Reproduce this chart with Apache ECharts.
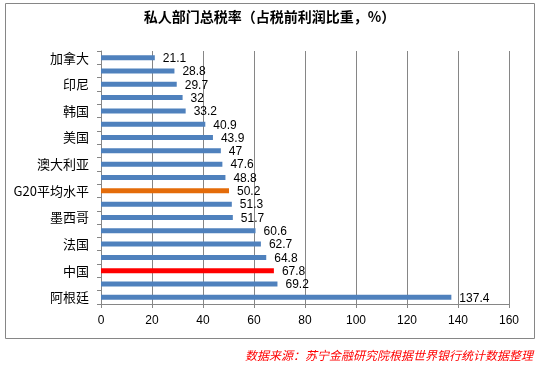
<!DOCTYPE html>
<html><head><meta charset="utf-8">
<script src="https://cdn.jsdelivr.net/npm/echarts@6/dist/echarts.min.js"></script>
<style>html,body{margin:0;padding:0;background:#fff}#c{width:539px;height:368px}</style>
</head><body><div id="c"></div>
<script>
var titleText = '私人部门总税率（占税前利润比重，%）';
var sourceText = '数据来源：苏宁金融研究院根据世界银行统计数据整理';
var categories = ['加拿大','','印尼','','韩国','','美国','','澳大利亚','','G20平均水平','','墨西哥','','法国','','中国','','阿根廷'];
var values = [21.1,28.8,29.7,32,33.2,40.9,43.9,47,47.6,48.8,50.2,51.3,51.7,60.6,62.7,64.8,67.8,69.2,137.4];
var xTicks = [0,20,40,60,80,100,120,140,160];
var highlight = {'G20平均水平':'#E46C0A','中国':'#FF0000'};
var baseColor = '#4F81BD';

var chart = echarts.init(document.getElementById('c'), null, {renderer:'canvas'});
var data = values.map(function(v,i){
  var c = highlight[categories[i]] || baseColor;
  return {value:v, itemStyle:{color:c}};
});
chart.setOption({
  animation:false,
  title:{text:titleText,left:'center',top:5,textStyle:{fontSize:14,fontWeight:'bold',color:'#000',fontFamily:'Noto Sans CJK SC'}},
  graphic:[
    {type:'rect',shape:{x:5.5,y:3.5,width:529,height:335},style:{fill:null,stroke:'#868686',lineWidth:1},silent:true},
    {type:'text',right:6,top:349,style:{text:sourceText,fill:'#FF0000',font:'italic 12px "Noto Sans CJK SC"'}}
  ],
  grid:{left:101,right:30,top:51,bottom:64},
  xAxis:{type:'value',min:xTicks[0],max:xTicks[xTicks.length-1],interval:20,
    axisLine:{show:true,lineStyle:{color:'#868686'}},
    axisTick:{show:true,length:4,lineStyle:{color:'#868686'}},
    axisLabel:{fontSize:12,color:'#000',margin:11,fontFamily:'Liberation Sans'},
    splitLine:{show:true,lineStyle:{color:'#868686',width:1}}},
  yAxis:{type:'category',data:categories,inverse:true,
    axisLine:{show:true,lineStyle:{color:'#868686'}},
    axisTick:{show:true,length:4,interval:0,lineStyle:{color:'#868686'}},
    axisLabel:{interval:0,fontSize:13,color:'#000',margin:12,fontFamily:'Noto Sans CJK SC'}},
  series:[{type:'bar',data:data,barWidth:5,
    label:{show:true,position:'right',distance:8,offset:[0,1],fontSize:12,color:'#000',fontFamily:'Liberation Sans'}}]
});
</script></body></html>
